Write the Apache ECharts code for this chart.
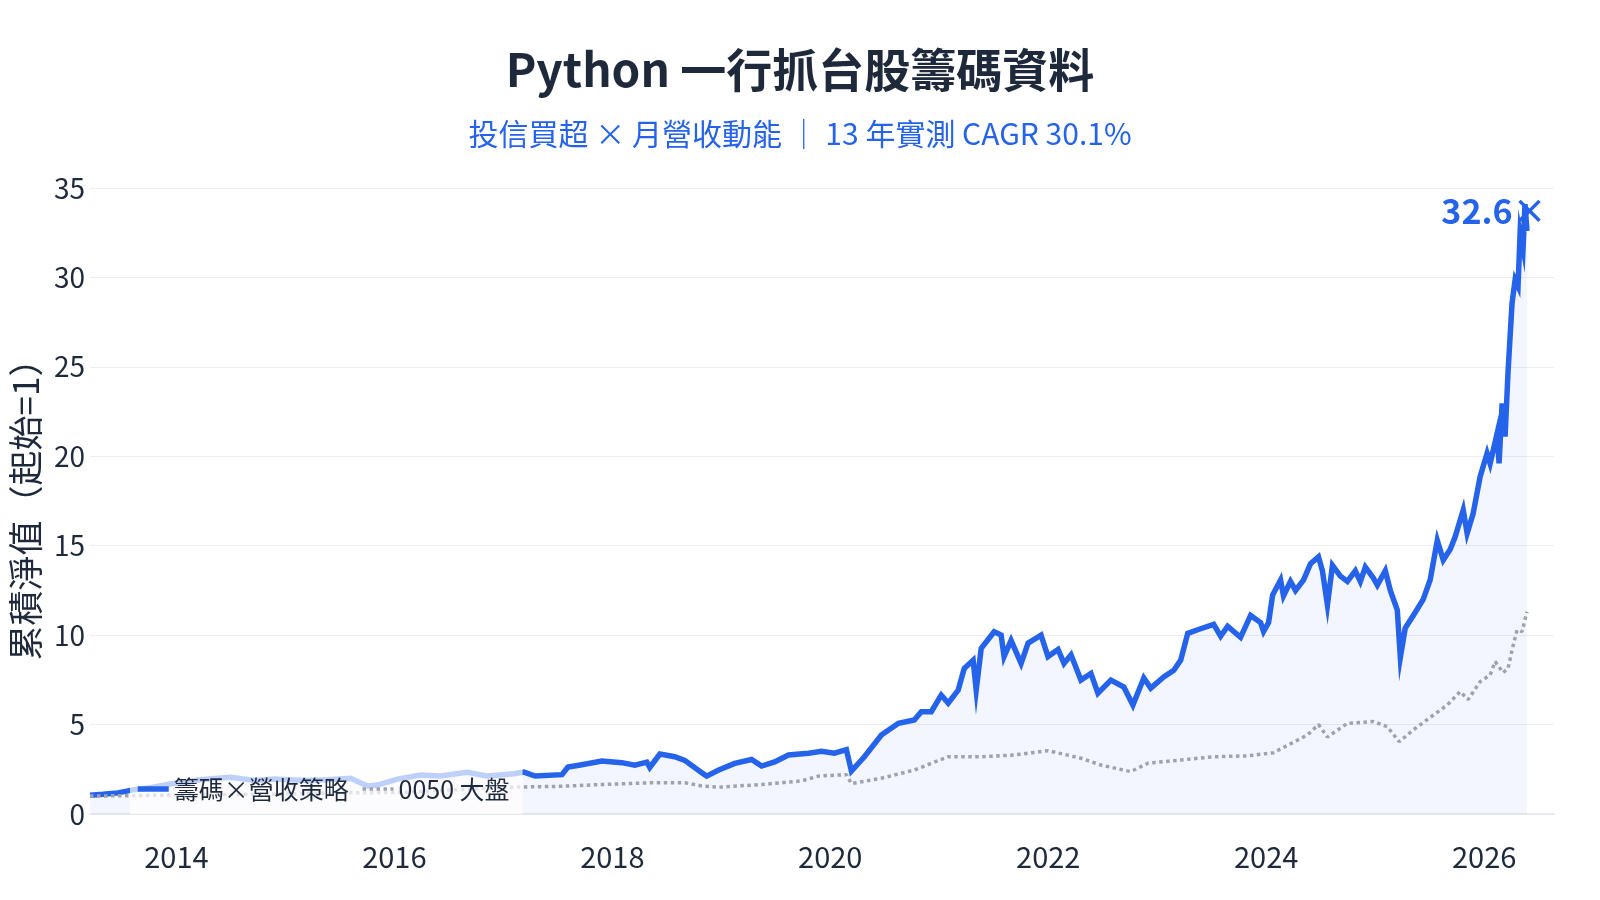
<!DOCTYPE html>
<html lang="zh-Hant">
<head>
<meta charset="utf-8">
<title>Python 一行抓台股籌碼資料</title>
<script src="https://cdn.jsdelivr.net/npm/echarts@6.0.0/dist/echarts.min.js"></script>
<style>
  html, body { margin: 0; padding: 0; background: #fff; }
  #chart { width: 1600px; height: 900px; }
</style>
</head>
<body>
<div id="chart"></div>
<script>
  "use strict";

  // 籌碼×營收策略：讀圖估計（時間以小數年表示）
  const stratYears = [
    2013.207, 2013.326, 2013.463, 2013.601, 2013.784, 2013.967, 2014.104, 2014.196, 2014.379, 2014.498,
    2014.718, 2014.901, 2015.176, 2015.386, 2015.597, 2015.753, 2015.844, 2016.027, 2016.238, 2016.421,
    2016.668, 2016.851, 2017.099, 2017.190, 2017.291, 2017.538, 2017.593, 2017.694, 2017.905, 2018.088,
    2018.207, 2018.317, 2018.344, 2018.436, 2018.573, 2018.665, 2018.821, 2018.866, 2018.976, 2019.123,
    2019.278, 2019.370, 2019.489, 2019.617, 2019.800, 2019.919, 2020.038, 2020.148, 2020.194, 2020.313,
    2020.469, 2020.625, 2020.771, 2020.835, 2020.927, 2021.018, 2021.082, 2021.174, 2021.229, 2021.311,
    2021.339, 2021.385, 2021.504, 2021.568, 2021.595, 2021.659, 2021.751, 2021.815, 2021.934, 2021.998,
    2022.090, 2022.145, 2022.209, 2022.300, 2022.392, 2022.456, 2022.575, 2022.694, 2022.777, 2022.877,
    2022.941, 2023.060, 2023.152, 2023.216, 2023.280, 2023.372, 2023.518, 2023.582, 2023.646, 2023.765,
    2023.857, 2023.949, 2023.976, 2024.022, 2024.059, 2024.132, 2024.159, 2024.223, 2024.269, 2024.342,
    2024.407, 2024.480, 2024.516, 2024.562, 2024.608, 2024.681, 2024.745, 2024.818, 2024.864, 2024.910,
    2024.983, 2025.020, 2025.093, 2025.139, 2025.203, 2025.231, 2025.276, 2025.350, 2025.441, 2025.505,
    2025.570, 2025.625, 2025.689, 2025.734, 2025.808, 2025.844, 2025.899, 2025.963, 2026.027, 2026.055,
    2026.119, 2026.137, 2026.165, 2026.192, 2026.220, 2026.256, 2026.284, 2026.311, 2026.330, 2026.357,
    2026.375, 2026.393
  ];
  const stratValues = [
    1.05, 1.10, 1.18, 1.35, 1.50, 1.70, 1.78, 1.90, 2.00, 2.05,
    1.88, 1.95, 1.88, 1.92, 2.00, 1.57, 1.62, 1.95, 2.18, 2.13,
    2.33, 2.13, 2.25, 2.34, 2.12, 2.20, 2.62, 2.73, 2.96, 2.87,
    2.73, 2.90, 2.60, 3.35, 3.20, 3.00, 2.31, 2.12, 2.46, 2.83,
    3.05, 2.68, 2.91, 3.30, 3.40, 3.50, 3.40, 3.60, 2.40, 3.20,
    4.42, 5.07, 5.26, 5.72, 5.72, 6.65, 6.20, 6.93, 8.14, 8.60,
    6.93, 9.26, 10.19, 10.00, 8.80, 9.70, 8.42, 9.55, 10.00, 8.80,
    9.20, 8.42, 8.90, 7.49, 7.86, 6.75, 7.49, 7.10, 6.09, 7.60,
    7.04, 7.66, 8.04, 8.61, 10.10, 10.30, 10.60, 9.94, 10.50, 9.88,
    11.10, 10.70, 10.20, 10.70, 12.24, 13.08, 12.20, 13.00, 12.50, 13.08,
    14.00, 14.38, 13.60, 11.70, 13.90, 13.30, 13.00, 13.60, 13.00, 13.80,
    13.20, 12.80, 13.60, 12.50, 11.40, 8.75, 10.40, 11.10, 12.00, 13.10,
    15.30, 14.20, 14.80, 15.50, 17.00, 15.70, 16.80, 18.86, 20.17, 19.60,
    21.28, 19.60, 22.96, 21.10, 24.80, 28.55, 29.86, 29.50, 32.47, 31.60,
    34.10, 32.60
  ];

  // 0050 大盤
  const benchYears = [
    2013.207, 2013.601, 2014.242, 2014.974, 2015.634, 2016.027, 2016.531, 2017.099, 2017.538, 2017.905,
    2018.363, 2018.665, 2018.821, 2018.976, 2019.370, 2019.736, 2019.892, 2020.038, 2020.148, 2020.194,
    2020.469, 2020.771, 2021.082, 2021.385, 2021.687, 2021.998, 2022.300, 2022.483, 2022.758, 2022.914,
    2023.216, 2023.518, 2023.830, 2024.068, 2024.379, 2024.480, 2024.562, 2024.745, 2024.983, 2025.111,
    2025.221, 2025.350, 2025.505, 2025.661, 2025.780, 2025.853, 2025.963, 2026.055, 2026.101, 2026.174,
    2026.220, 2026.256, 2026.302, 2026.348, 2026.393
  ];
  const benchValues = [
    1.00, 1.03, 1.08, 1.12, 1.19, 1.20, 1.35, 1.50, 1.55, 1.65,
    1.75, 1.75, 1.57, 1.50, 1.65, 1.85, 2.12, 2.17, 2.20, 1.70,
    2.00, 2.46, 3.20, 3.20, 3.30, 3.54, 3.12, 2.74, 2.37, 2.84,
    3.02, 3.20, 3.25, 3.43, 4.42, 5.00, 4.30, 5.07, 5.17, 4.88,
    4.04, 4.70, 5.40, 6.09, 6.84, 6.40, 7.40, 7.77, 8.52, 7.90,
    8.15, 9.17, 10.29, 10.20, 11.31
  ];

  const yearTicks = [2014, 2016, 2018, 2020, 2022, 2024, 2026];
  const seriesNames = ["籌碼×營收策略", "0050 大盤"];

  const FONT = '"Noto Sans CJK TC", "Noto Sans", sans-serif';
  const INK = "#1e293b";
  const BLUE = "#2563eb";
  const GREY = "#9ca3af";

  const stratData = stratYears.map((t, i) => [t, stratValues[i]]);
  const benchData = benchYears.map((t, i) => [t, benchValues[i]]);
  const lastT = stratYears[stratYears.length - 1];
  const lastV = stratValues[stratValues.length - 1];

  const chart = echarts.init(document.getElementById("chart"), null, { renderer: "canvas" });

  chart.setOption({
    animation: false,
    backgroundColor: "#ffffff",
    textStyle: { fontFamily: FONT },
    title: [
      {
        text: "Python 一行抓台股籌碼資料",
        left: "center",
        top: 41,
        textStyle: { fontFamily: FONT, fontSize: 46, lineHeight: 48, fontWeight: "bold", color: INK }
      },
      {
        text: "投信買超 × 月營收動能 ｜ 13 年實測 CAGR 30.1%",
        left: "center",
        top: 113,
        textStyle: { fontFamily: FONT, fontSize: 30, lineHeight: 32, fontWeight: "normal", color: BLUE }
      }
    ],
    grid: { left: 87, right: 46, top: 188, bottom: 86 },
    legend: {
      left: 130,
      top: 764,
      orient: "horizontal",
      padding: [12, 13, 12, 5],
      itemGap: 12,
      itemWidth: 31,
      itemHeight: 14,
      selectedMode: false,
      backgroundColor: "rgba(255,255,255,0.7)",
      itemStyle: { opacity: 0 },
      textStyle: { fontFamily: FONT, fontSize: 25, lineHeight: 26, color: INK },
      data: [
        { name: seriesNames[0], lineStyle: { width: 5.5, color: BLUE, type: "solid" } },
        { name: seriesNames[1], lineStyle: { width: 3.5, color: GREY, type: "dotted" } }
      ]
    },
    xAxis: {
      type: "value",
      min: 2013.207,
      max: 2026.641,
      offset: 16,
      splitLine: { show: false },
      axisTick: { show: false },
      axisLine: { show: true, lineStyle: { color: "#e2e5ea", width: 1.5 } },
      axisLabel: {
        customValues: yearTicks,
        margin: 12,
        fontFamily: FONT,
        fontSize: 29,
        color: INK,
        formatter: (v) => String(Math.round(v))
      }
    },
    yAxis: {
      type: "value",
      min: 0,
      max: 35,
      interval: 5,
      name: "累積淨值（起始=1）",
      nameLocation: "middle",
      nameGap: 41,
      nameRotate: 90,
      nameTextStyle: { fontFamily: FONT, fontSize: 35, color: INK },
      axisLine: { show: false },
      axisTick: { show: false },
      splitLine: { show: true, lineStyle: { color: "#eceef1", width: 1 } },
      axisLabel: { margin: 5, fontFamily: FONT, fontSize: 28, color: INK }
    },
    series: [
      {
        name: seriesNames[0],
        type: "line",
        data: stratData,
        symbol: "none",
        showSymbol: false,
        silent: true,
        lineStyle: { color: BLUE, width: 5.5, join: "miter" },
        itemStyle: { color: BLUE },
        areaStyle: { color: "rgba(37,99,235,0.08)" },
        markPoint: {
          silent: true,
          symbol: "circle",
          symbolSize: 0,
          data: [{ coord: [lastT, lastV], value: lastV }],
          label: {
            show: true,
            position: "inside",
            offset: [-33, -20],
            formatter: lastV.toFixed(1) + "×",
            fontFamily: FONT,
            fontSize: 34,
            fontWeight: "bold",
            color: BLUE
          }
        }
      },
      {
        name: seriesNames[1],
        type: "line",
        data: benchData,
        symbol: "none",
        showSymbol: false,
        silent: true,
        lineStyle: { color: GREY, width: 3.5, type: "dotted" },
        itemStyle: { color: GREY }
      }
    ]
  });
</script>
</body>
</html>
